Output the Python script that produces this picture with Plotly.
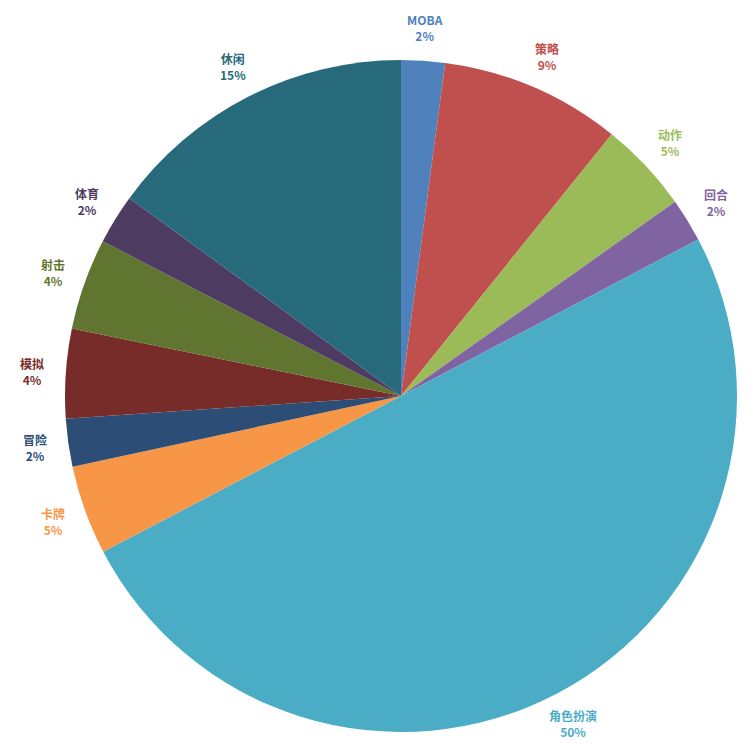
import math
import plotly.graph_objects as go

labels = ["MOBA", "策略", "动作", "回合", "角色扮演", "卡牌", "冒险", "模拟", "射击", "体育", "休闲"]
values = [2.1, 8.7, 4.4, 2.1, 50.1, 4.3, 2.3, 4.3, 4.4, 2.4, 15.0]
pct_text = ["2%", "9%", "5%", "2%", "50%", "5%", "2%", "4%", "4%", "2%", "15%"]
colors = ["#4F81BD", "#C0504D", "#9BBB59", "#8064A2", "#4BACC6", "#F79646",
          "#2C4D75", "#772C2A", "#5F7530", "#4D3B62", "#276A7C"]

W, H = 751, 745
x0, x1, y0, y1 = 57, 729, 52, 724
cx, cy, R = (x0 + x1) / 2, (y0 + y1) / 2, (x1 - x0) / 2

fig = go.Figure(go.Pie(
    labels=labels, values=values, sort=False, direction="clockwise", rotation=0,
    marker=dict(colors=colors, line=dict(color="white", width=0)),
    textinfo="none", hoverinfo="label+percent",
    domain=dict(x=[x0 / W, x1 / W], y=[1 - y1 / H, 1 - y0 / H]),
))

total = sum(values)
cum = 0
anns = []
for lab, v, p, c in zip(labels, values, pct_text, colors):
    mid = (cum + v / 2) / total * 2 * math.pi
    cum += v
    rr = R * 1.1
    px = cx + rr * math.sin(mid)
    py = cy - rr * math.cos(mid)
    anns.append(dict(x=px / W, y=1 - py / H, xref="paper", yref="paper",
                     text=f"<b>{lab}</b><br><b>{p}</b>", showarrow=False,
                     font=dict(color=c, size=12, family="Noto Sans CJK SC"),
                     xanchor="center", yanchor="middle"))

fig.update_layout(width=W, height=H, margin=dict(l=0, r=0, t=0, b=0),
                  showlegend=False, paper_bgcolor="white", annotations=anns)
fig.write_html("out.html")
